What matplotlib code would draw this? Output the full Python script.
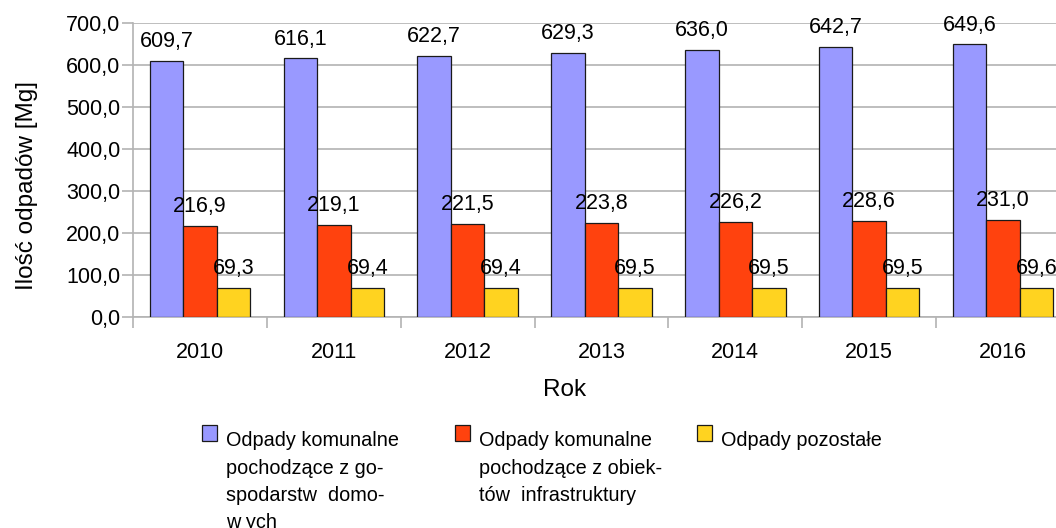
## bar chart - ilosc odpadow 2010-2016
import matplotlib
matplotlib.use('Agg')
import matplotlib.pyplot as plt
from matplotlib.patches import Rectangle
import numpy

## data
years=['2010','2011','2012','2013','2014','2015','2016']
domowe=[609.7,616.1,622.7,629.3,636.0,642.7,649.6]
infrastruktura=[216.9,219.1,221.5,223.8,226.2,228.6,231.0]
pozostale=[69.3,69.4,69.4,69.5,69.5,69.5,69.6]
series=[domowe,infrastruktura,pozostale]
colors=['#9999ff','#ff420e','#ffd320']
legend_lines=[
    ['Odpady komunalne','pochodzące z go-','spodarstw  domo-','w ych'],
    ['Odpady komunalne','pochodzące z obiek-','tów  infrastruktury'],
    ['Odpady pozostałe'],
]
yticks=[0,100,200,300,400,500,600,700]

plt.rcParams['font.family']=['Liberation Sans','DejaVu Sans']
W,H=1056,528

def fx(px):
    return px/W
def fy(py):
    return 1-py/H

fig=plt.figure(figsize=(W/100,H/100),dpi=100)
ax=fig.add_axes([fx(133),fy(316.7),(1070-133)/W,(316.7-23.3)/H])

## bars + value labels
x=numpy.arange(len(years))
bw=0.25
for j,vals in enumerate(series):
    pos=x+(j-1)*bw
    ax.bar(pos,vals,bw,color=colors[j],edgecolor='#1a1a1a',linewidth=0.9,zorder=3)
    for p,v in zip(pos,vals):
        ax.annotate(('%.1f'%v).replace('.',','),(p,v),xytext=(0,10),
                    textcoords='offset points',ha='center',va='baseline',
                    fontsize=15.5,zorder=4)

## axes
ax.set_xlim(-0.5,len(years)-0.5)
ax.set_ylim(0,700)
ax.set_yticks(yticks)
ax.set_yticklabels([('%.1f'%t).replace('.',',') for t in yticks],fontsize=15.5)
ax.yaxis.grid(True,color='#b3b3b3',linewidth=1.2,zorder=0)
ax.tick_params(axis='y',length=8,width=1.2,color='#b3b3b3',pad=1)
ax.set_xticks(x)
ax.set_xticklabels(years,fontsize=15.5)
ax.set_xticks(numpy.arange(len(years)+1)-0.5,minor=True)
ax.tick_params(axis='x',which='major',length=0,pad=18)
ax.tick_params(axis='x',which='minor',length=8,width=1.2,color='#b3b3b3')
for s in ['top','right']:
    ax.spines[s].set_visible(False)
for s in ['left','bottom']:
    ax.spines[s].set_color('#b3b3b3')
    ax.spines[s].set_linewidth(1.2)
ax.set_axisbelow(True)

## axis titles
fig.text(fx(27),fy(185),'Ilość odpadów [Mg]',rotation=90,ha='center',va='center',fontsize=17.5)
fig.text(fx(565),fy(390),'Rok',ha='center',va='center',fontsize=17.5)

## legend
sq_x=[202,455,697]
txt_x=[226,479,721]
for j in range(len(series)):
    fig.patches.append(Rectangle((fx(sq_x[j]),fy(441)),15/W,16/H,transform=fig.transFigure,
                                 facecolor=colors[j],edgecolor='#1a1a1a',linewidth=0.9))
    for k,line in enumerate(legend_lines[j]):
        fig.text(fx(txt_x[j]),fy(446+27.5*k),line,ha='left',va='baseline',fontsize=14.3)

fig.savefig('out.png',dpi=100)
